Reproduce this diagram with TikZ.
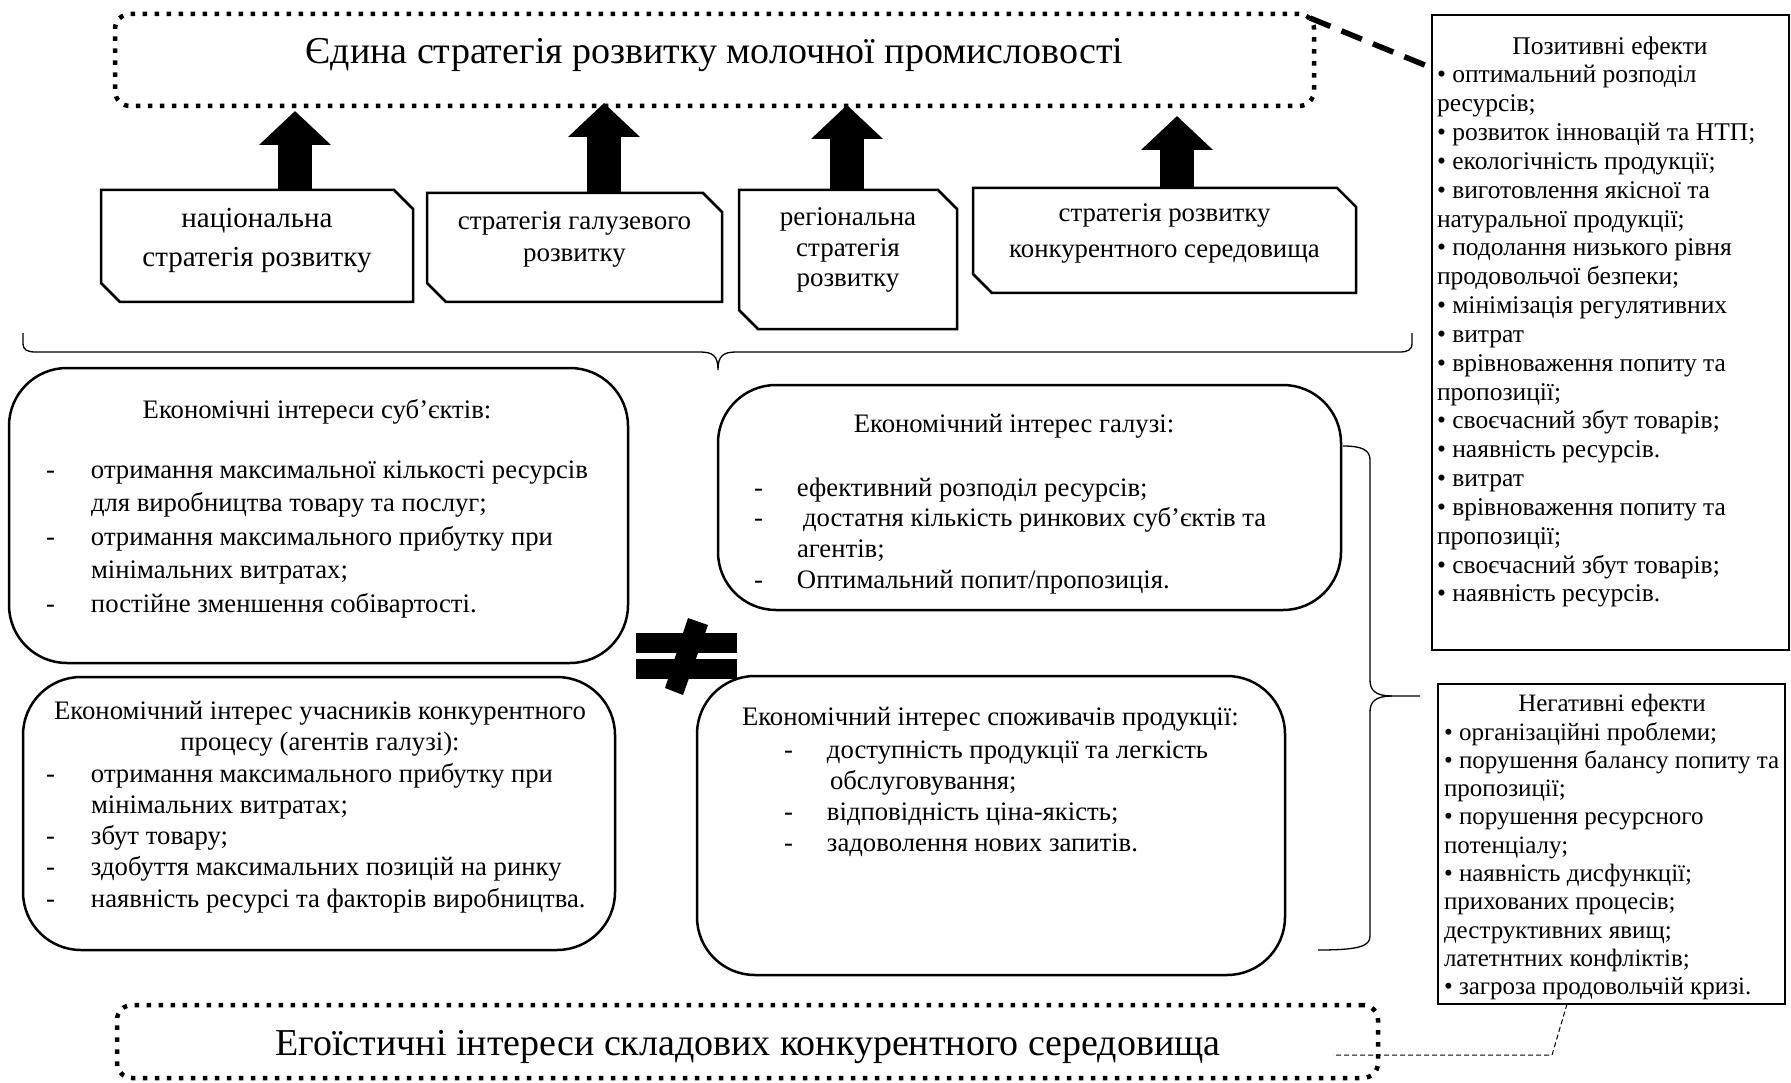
\documentclass[tikz,border=0pt]{standalone}
\usepackage{fontspec}
\setmainfont{Liberation Serif}
\usetikzlibrary{arrows.meta}
\begin{document}
\begin{tikzpicture}[x=1pt,y=-1pt,
  every node/.style={inner sep=0pt, outer sep=0pt},
  dotbox/.style={draw, line width=4.5pt, dash pattern=on 4.5pt off 7.5pt, rounded corners=15pt},
  stratline/.style={line width=2.5pt, line join=miter},
  roundbox/.style={draw, line width=2.5pt, rounded corners=58pt},
  effbox/.style={draw, line width=1.6pt},
  barrow/.style={line width=34pt, -{Triangle[length=34pt,width=70pt]}},
  bracel/.style={line width=1.3pt},
  thickdash/.style={line width=5.5pt, dash pattern=on 22pt off 12pt},
  thindash/.style={line width=1pt, dash pattern=on 5pt off 3pt},
  titlef/.style={font=\fontsize{38}{46}\selectfont},
  rfa/.style={font=\fontsize{26.7}{33.5}\selectfont},
  rfb/.style={font=\fontsize{26.7}{30.7}\selectfont},
  rfc/.style={font=\fontsize{26.7}{31.25}\selectfont},
  rfd/.style={font=\fontsize{26.7}{31}\selectfont},
  efp/.style={font=\fontsize{25.5}{28.83}\selectfont},
  efn/.style={font=\fontsize{25}{28.3}\selectfont}
]
\fill[white] (0,0) rectangle (1791,1083);
\useasboundingbox (0,0) rectangle (1791,1083);

% top box
\node[dotbox, minimum width=1199pt, minimum height=92pt] (top) at (714.5,60) {};
\node[titlef, anchor=base] (toptitle) at (714.5,64) {Єдина стратегія розвитку молочної промисловості};

% strategy boxes
\node[minimum width=312pt, minimum height=112pt] (s1) at (257,246) {};
\node[minimum width=295pt, minimum height=109pt] (s2) at (574.5,247.5) {};
\node[minimum width=218pt, minimum height=139pt] (s3) at (848,259.5) {};
\node[minimum width=383pt, minimum height=105pt] (s4) at (1164.5,240.5) {};
\foreach \n in {s1,s2,s3,s4}{
  \draw[stratline] (\n.north west) -- ([xshift=-19pt]\n.north east) -- ([yshift=-19pt]\n.north east)
    -- (\n.south east) -- ([xshift=19pt]\n.south west) -- ([yshift=19pt]\n.south west) -- cycle;
}
\node[font=\fontsize{29}{39}\selectfont, anchor=base] (s1t) at (257,228)
  {\begin{tabular}[t]{@{}c@{}}національна\\стратегія розвитку\end{tabular}};
\node[font=\fontsize{27}{32}\selectfont, anchor=base] (s2t) at (574.5,230)
  {\begin{tabular}[t]{@{}c@{}}стратегія галузевого\\розвитку\end{tabular}};
\node[font=\fontsize{27}{30.5}\selectfont, anchor=base] (s3t) at (848,226)
  {\begin{tabular}[t]{@{}c@{}}регіональна\\стратегія\\розвитку\end{tabular}};
\node[font=\fontsize{26.8}{36}\selectfont, anchor=base] (s4t) at (1164.5,222)
  {\begin{tabular}[t]{@{}c@{}}стратегія розвитку\\конкурентного середовища\end{tabular}};

% block arrows
\coordinate (a1) at ([xshift=38pt]s1.north);
\coordinate (a2) at ([xshift=29.5pt]s2.north);
\coordinate (a3) at ([xshift=-1pt]s3.north);
\coordinate (a4) at ([xshift=12.5pt]s4.north);
\draw[barrow, shorten >=5pt] (a1) -- (a1 |- top.south);
\draw[barrow, shorten >=-3pt] (a2) -- (a2 |- top.south);
\draw[barrow, shorten >=-1pt] (a3) -- (a3 |- top.south);
\draw[barrow, shorten >=10pt] (a4) -- (a4 |- top.south);

% top brace
\draw[bracel] (23,333) -- (23,343) .. controls (23,350) and (27,352) .. (36,352) -- (700,352)
  .. controls (713,352) and (718,356) .. (718,370)
  .. controls (718,356) and (723,352) .. (736,352) -- (1399,352)
  .. controls (1408,352) and (1412,350) .. (1412,343) -- (1412,333);

% rounded boxes
\node[roundbox, minimum width=619pt, minimum height=295pt] (ra) at (318.5,515.5) {};
\node[rfa, anchor=base] (rat) at (317,418) {Економічні інтереси суб’єктів:};
\node[rfa, anchor=base west] (ral) at (46,478) {\begin{tabular}[t]{@{}p{45pt}@{}l@{}}
-&отримання максимальної кількості ресурсів\\
&для виробництва товару та послуг;\\
-&отримання максимального прибутку при\\
&мінімальних витратах;\\
-&постійне зменшення собівартості.
\end{tabular}};

\node[roundbox, minimum width=623pt, minimum height=225pt] (rb) at (1029.5,497.5) {};
\node[rfb, anchor=base] (rbt) at (1014,432) {Економічний інтерес галузі:};
\node[rfb, anchor=base west] (rbl) at (754,496) {\begin{tabular}[t]{@{}p{43pt}@{}l@{}}
-&ефективний розподіл ресурсів;\\
-&\hspace{6pt}достатня кількість ринкових суб’єктів та\\
&агентів;\\
-&Оптимальний попит/пропозиція.
\end{tabular}};

\node[roundbox, minimum width=592pt, minimum height=273pt] (rc) at (319,813.5) {};
\node[rfc, anchor=base] (rct) at (320,719) {\begin{tabular}[t]{@{}c@{}}Економічний інтерес учасників конкурентного\\процесу (агентів галузі):\end{tabular}};
\node[rfc, anchor=base west] (rcl) at (46,782) {\begin{tabular}[t]{@{}p{45pt}@{}l@{}}
-&отримання максимального прибутку при\\
&мінімальних витратах;\\
-&збут товару;\\
-&здобуття максимальних позицій на ринку\\
-&наявність ресурсі та факторів виробництва.
\end{tabular}};

\node[roundbox, minimum width=588pt, minimum height=299pt] (rd) at (991,825.5) {};
\node[rfd, anchor=base west] (rdt) at (742,725) {Економічний інтерес споживачів продукції:};
\node[rfd, anchor=base west] (rdl) at (784,758) {\begin{tabular}[t]{@{}p{43pt}@{}l@{}}
-&доступність продукції та легкість\\
&\hspace{3pt}обслуговування;\\
-&відповідність ціна-якість;\\
-&задоволення нових запитів.
\end{tabular}};

% not-equal sign
\fill (636,633) rectangle (737,653);
\fill (636,659) rectangle (737,679);
\fill (688,618) -- (708,625) -- (683,695) -- (665,688) -- cycle;

% right brace
\draw[bracel] (1343,446) .. controls (1362,446) and (1370,450) .. (1370,460) -- (1370,680)
  .. controls (1370,690) and (1375,696) .. (1392,696) -- (1420,696);
\draw[bracel] (1392,696) .. controls (1375,696) and (1370,702) .. (1370,712) -- (1370,936)
  .. controls (1370,946) and (1360,950) .. (1318,950);

% effects boxes
\node[effbox, minimum width=357pt, minimum height=635pt] (pos) at (1610.5,332.5) {};
\node[efp, anchor=base] (post) at (1610,55) {Позитивні ефекти};
\node[efp, anchor=base west] (posl) at (1437,83) {\begin{tabular}[t]{@{}l@{}}
• оптимальний розподіл\\
ресурсів;\\
• розвиток інновацій та НТП;\\
• екологічність продукції;\\
• виготовлення якісної та\\
натуральної продукції;\\
• подолання низького рівня\\
продовольчої безпеки;\\
• мінімізація регулятивних\\
• витрат\\
• врівноваження попиту та\\
пропозиції;\\
• своєчасний збут товарів;\\
• наявність ресурсів.\\
• витрат\\
• врівноваження попиту та\\
пропозиції;\\
• своєчасний збут товарів;\\
• наявність ресурсів.
\end{tabular}};

\node[effbox, minimum width=347pt, minimum height=320pt] (neg) at (1611.5,844) {};
\node[efn, anchor=base] (negt) at (1612,711) {Негативні ефекти};
\node[efn, anchor=base west] (negl) at (1444,740) {\begin{tabular}[t]{@{}l@{}}
• організаційні проблеми;\\
• порушення балансу попиту та\\
пропозиції;\\
• порушення ресурсного\\
потенціалу;\\
• наявність дисфункції;\\
прихованих процесів;\\
деструктивних явищ;\\
латетнтних конфліктів;\\
• загроза продовольчій кризі.
\end{tabular}};

% dashed links
\coordinate (dashend) at (1432,68);
\draw[thickdash] ([shift={(-4,4)}]top.north east) -- (dashend);

% bottom box
\node[dotbox, minimum width=1261pt, minimum height=73pt] (bot) at (747.5,1041.5) {};
\node[titlef, anchor=base] (bottitle) at (748,1055) {Егоїстичні інтереси складових конкурентного середовища};

\coordinate (cb) at (1552,1055);
\coordinate (ce) at (1333,1055);
\draw[thindash] ([xshift=-44.5pt]neg.south) -- (cb) -- (ce);
\end{tikzpicture}
\end{document}
